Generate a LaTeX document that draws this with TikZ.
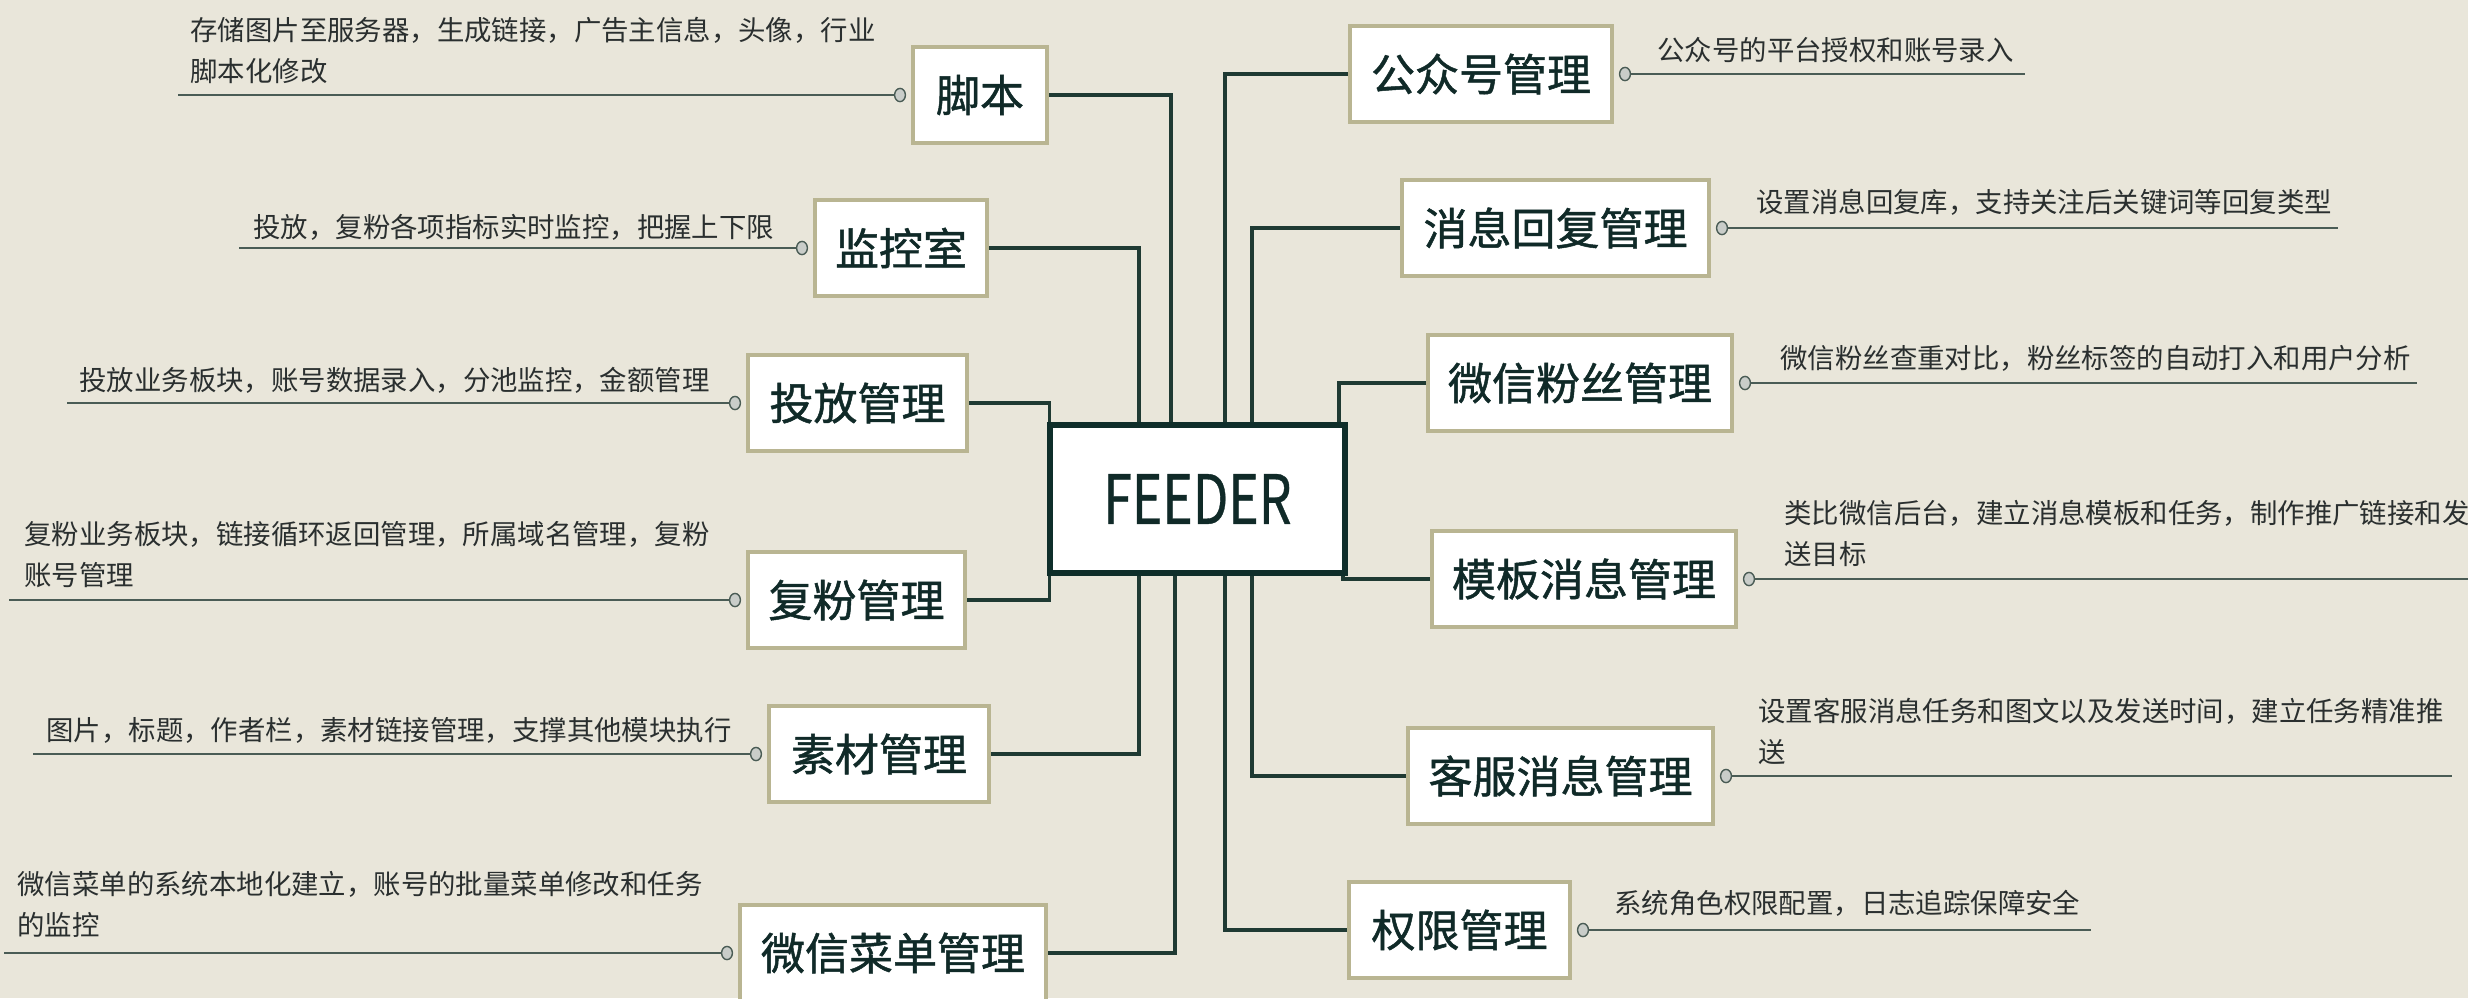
\documentclass[tikz,border=0pt]{standalone}
\usepackage{fontspec}
\setmainfont{Noto Sans CJK SC}
\newfontfamily\boxfont[FakeBold=1.1]{Noto Sans CJK SC}
\newfontfamily\rootfont[FakeBold=0.5,FakeStretch=0.76]{Noto Sans CJK SC}
\usetikzlibrary{calc,shapes.geometric}
\definecolor{bgc}{HTML}{E9E6DA}
\definecolor{boxc}{HTML}{B9B592}
\definecolor{rootc}{HTML}{0F2E2A}
\definecolor{connc}{HTML}{1F3A33}
\definecolor{leafc}{HTML}{4A5C55}
\definecolor{txtc}{HTML}{102A28}
\definecolor{desc}{HTML}{2A2F2F}
\definecolor{dotfill}{HTML}{C9CDC9}
\begin{document}
\begin{tikzpicture}[x=0.5pt,y=-0.5pt,
  box/.style={draw=boxc, line width=2pt, fill=white, minimum height=48pt, inner sep=0pt,
    text=txtc, font=\boxfont\fontsize{22}{26}\selectfont},
  root/.style={draw=rootc, line width=3.2pt, fill=white, inner sep=0pt, text=txtc,
    minimum width=147.5pt, minimum height=74pt, font=\rootfont\fontsize{34}{38}\selectfont},
  conn/.style={draw=connc, line width=1.6pt},
  leaf/.style={draw=leafc, line width=1.4pt},
  dot/.style={ellipse, draw=leafc, fill=dotfill, line width=0.7pt, minimum width=5.4pt,
    minimum height=6.6pt, inner sep=0pt},
  dsc/.style={text=desc, inner sep=0pt, align=left, font=\fontsize{13.7}{20.5}\selectfont}]
\useasboundingbox (0,0) rectangle (2468,998);
\fill[bgc] (0,0) rectangle (2468,998);

% root
\node[root] (root) at (1197.5,499) {FEEDER};

% left nodes
\node[box, minimum width=67pt]    (jb) at (980,95)    {脚本};
\node[box, minimum width=86pt]    (jk) at (901,248)   {监控室};
\node[box, minimum width=109.5pt] (tf) at (857.5,403) {投放管理};
\node[box, minimum width=108.5pt] (ff) at (856.5,600) {复粉管理};
\node[box, minimum width=110pt]   (sc) at (879,754)   {素材管理};
\node[box, minimum width=153pt]   (cd) at (893,953)   {微信菜单管理};

% right nodes
\node[box, minimum width=131pt]   (gz) at (1481,74)    {公众号管理};
\node[box, minimum width=153.5pt] (xx) at (1555.5,228) {消息回复管理};
\node[box, minimum width=152pt]   (fs) at (1580,383)   {微信粉丝管理};
\node[box, minimum width=152pt]   (mb) at (1584,579)   {模板消息管理};
\node[box, minimum width=152.5pt] (kf) at (1560.5,776) {客服消息管理};
\node[box, minimum width=110.5pt] (qx) at (1459.5,930) {权限管理};

% connectors to root
\draw[conn] (jb.east) -| ($(root.north)+(-26.5,0)$);
\draw[conn] (jk.east) -| ($(root.north)+(-58.5,0)$);
\draw[conn] (tf.east) -| ($(root.north west)+(3,0)$);
\draw[conn] (ff.east) -| ($(root.south west)+(3,0)$);
\draw[conn] (sc.east) -| ($(root.south)+(-58.5,0)$);
\draw[conn] (cd.east) -| ($(root.south)+(-22.5,0)$);
\draw[conn] (gz.west) -| ($(root.north)+(27.5,0)$);
\draw[conn] (xx.west) -| ($(root.north)+(54.5,0)$);
\draw[conn] (fs.west) -| ($(root.north)+(141.5,0)$);
\draw[conn] (mb.west) -| ($(root.south)+(145.5,0)$);
\draw[conn] (kf.west) -| ($(root.south)+(54.5,0)$);
\draw[conn] (qx.west) -| ($(root.south)+(27.5,0)$);
% redraw root on top
\node[root] at (root.center) {FEEDER};

% leaf ends
\coordinate (ljb) at (178,95);
\coordinate (ljk) at (239,248);
\coordinate (ltf) at (67,403);
\coordinate (lff) at (9,600);
\coordinate (lsc) at (33,754);
\coordinate (lcd) at (4,953);
\coordinate (lgz) at (2025,74);
\coordinate (lxx) at (2338,228);
\coordinate (lfs) at (2417,383);
\coordinate (lmb) at (2468,579);
\coordinate (lkf) at (2452,776);
\coordinate (lqx) at (2091,930);

% dots
\node[dot] (djb) at ($(jb.west)+(-11,0)$) {};
\node[dot] (djk) at ($(jk.west)+(-11,0)$) {};
\node[dot] (dtf) at ($(tf.west)+(-11,0)$) {};
\node[dot] (dff) at ($(ff.west)+(-11,0)$) {};
\node[dot] (dsc) at ($(sc.west)+(-11,0)$) {};
\node[dot] (dcd) at ($(cd.west)+(-11,0)$) {};
\node[dot] (dgz) at ($(gz.east)+(11,0)$) {};
\node[dot] (dxx) at ($(xx.east)+(11,0)$) {};
\node[dot] (dfs) at ($(fs.east)+(11,0)$) {};
\node[dot] (dmb) at ($(mb.east)+(11,0)$) {};
\node[dot] (dkf) at ($(kf.east)+(11,0)$) {};
\node[dot] (dqx) at ($(qx.east)+(11,0)$) {};

\draw[leaf] (ljb) -- (djb.west);
\draw[leaf] (ljk) -- (djk.west);
\draw[leaf] (ltf) -- (dtf.west);
\draw[leaf] (lff) -- (dff.west);
\draw[leaf] (lsc) -- (dsc.west);
\draw[leaf] (lcd) -- (dcd.west);
\draw[leaf] (dgz.east) -- (lgz);
\draw[leaf] (dxx.east) -- (lxx);
\draw[leaf] (dfs.east) -- (lfs);
\draw[leaf] (dmb.east) -- (lmb);
\draw[leaf] (dkf.east) -- (lkf);
\draw[leaf] (dqx.east) -- (lqx);

% descriptions
\node[dsc, anchor=west] (tjb) at (190,50)  {存储图片至服务器，生成链接，广告主信息，头像，行业\\脚本化修改};
\node[dsc, anchor=west] (tjk) at (253,227) {投放，复粉各项指标实时监控，把握上下限};
\node[dsc, anchor=west] (ttf) at (79,380)  {投放业务板块，账号数据录入，分池监控，金额管理};
\node[dsc, anchor=west] (tff) at (24,555)  {复粉业务板块，链接循环返回管理，所属域名管理，复粉\\账号管理};
\node[dsc, anchor=west] (tsc) at (46,730)  {图片，标题，作者栏，素材链接管理，支撑其他模块执行};
\node[dsc, anchor=west] (tcd) at (17,904)  {微信菜单的系统本地化建立，账号的批量菜单修改和任务\\的监控};
\node[dsc, anchor=west] (tgz) at (1657,50)  {公众号的平台授权和账号录入};
\node[dsc, anchor=west] (txx) at (1756,202) {设置消息回复库，支持关注后关键词等回复类型};
\node[dsc, anchor=west] (tfs) at (1780,358) {微信粉丝查重对比，粉丝标签的自动打入和用户分析};
\node[dsc, anchor=west] (tmb) at (1784,533) {类比微信后台，建立消息模板和任务，制作推广链接和发\\送目标};
\node[dsc, anchor=west] (tkf) at (1758,731) {设置客服消息任务和图文以及发送时间，建立任务精准推\\送};
\node[dsc, anchor=west] (tqx) at (1614,903) {系统角色权限配置，日志追踪保障安全};
\end{tikzpicture}
\end{document}
